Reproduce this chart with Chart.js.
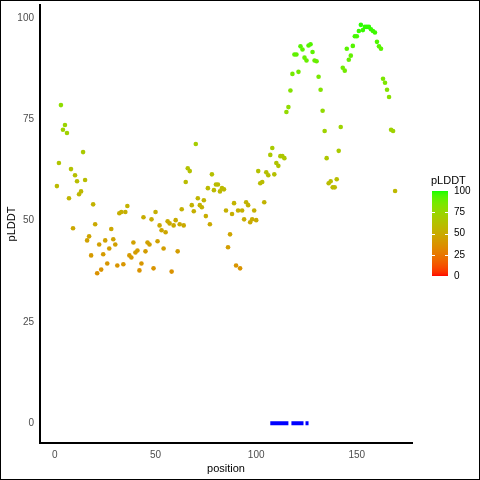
<!DOCTYPE html>
<html>
<head>
<meta charset="utf-8">
<script src="https://cdn.jsdelivr.net/npm/chart.js@4.4.0/dist/chart.umd.min.js"></script>
<style>
html, body { margin: 0; padding: 0; background: #fff; }
#wrap { width: 480px; height: 480px; position: relative; }
</style>
</head>
<body>
<div id="wrap"><canvas id="chart" width="480" height="480"></canvas></div>
<script>
// pLDDT per residue (positions 1..169)
const plddt = [
    58.5, 64.2, 78.5, 72.4, 73.6, 71.6, 55.5, 62.7, 48.1, 61.2,
    59.7, 56.5, 57.2, 66.9, 60.0, 45.1, 46.1, 41.4, 54.0, 49.1,
    37.0, 44.1, 37.9, 41.7, 45.1, 39.4, 43.1, 47.9, 45.4, 44.1,
    38.9, 51.8, 52.1, 39.2, 52.1, 53.6, 41.4, 40.9, 44.6, 42.1,
    42.6, 37.7, 39.4, 50.8, 42.4, 44.6, 44.1, 50.3, 38.2, 52.1,
    44.9, 48.8, 47.6, 43.1, 47.1, 49.8, 49.3, 37.4, 48.8, 50.1,
    42.4, 49.1, 52.8, 48.8, 59.5, 62.9, 62.2, 53.8, 52.3, 68.9,
    55.5, 53.8, 53.3, 55.0, 51.1, 58.0, 49.1, 61.4, 57.5, 58.9,
    58.9, 57.2, 58.0, 57.7, 52.5, 43.4, 46.6, 51.6, 54.3, 38.9,
    52.5, 38.2, 52.5, 50.3, 54.5, 53.8, 49.6, 50.3, 52.5, 50.1,
    62.2, 59.2, 59.5, 54.5, 61.9, 61.2, 66.2, 67.9, 61.4, 64.2,
    63.5, 65.9, 65.9, 65.4, 76.8, 78.0, 82.1, 86.2, 91.0, 91.0,
    86.7, 93.0, 92.2, 90.2, 89.5, 93.2, 93.5, 91.6, 89.5, 89.3,
    85.5, 82.3, 77.1, 72.1, 65.4, 59.2, 59.7, 58.2, 58.2, 60.2,
    67.2, 73.1, 87.7, 87.0, 92.4, 89.7, 90.7, 93.1, 95.5, 95.5,
    96.8, 98.3, 97.0, 97.8, 97.8, 97.8, 97.2, 96.8, 96.4, 94.1,
    93.0, 92.4, 85.0, 84.0, 82.3, 80.5, 72.4, 72.1, 57.3
]
const positions = plddt.map((v, i) => i + 1)

// blue bars at y = 0
const segStart = [107, 117.5, 124.5]
const segEnd = [116, 123.5, 126]

const xTicks = [0, 50, 100, 150]
const yTicks = [0, 25, 50, 75, 100]
const legendTicks = [0, 25, 50, 75, 100]

const FONT = "'Liberation Sans', Arial, sans-serif"

// red -> green gradient interpolated in CIELAB (like ggplot)
function srgbToLin(c) { c /= 255; return c <= 0.04045 ? c / 12.92 : Math.pow((c + 0.055) / 1.055, 2.4) }
function linToSrgb(c) { c = c <= 0.0031308 ? 12.92 * c : 1.055 * Math.pow(c, 1 / 2.4) - 0.055; return Math.round(Math.min(1, Math.max(0, c)) * 255) }
function rgbToLab(r, g, b) {
    r = srgbToLin(r); g = srgbToLin(g); b = srgbToLin(b)
    let x = (r * 0.4124 + g * 0.3576 + b * 0.1805) / 0.95047
    let y = (r * 0.2126 + g * 0.7152 + b * 0.0722)
    let z = (r * 0.0193 + g * 0.1192 + b * 0.9505) / 1.08883
    const f = t => t > 0.008856 ? Math.cbrt(t) : 7.787 * t + 16 / 116
    x = f(x); y = f(y); z = f(z)
    return [116 * y - 16, 500 * (x - y), 200 * (y - z)]
}
function labToRgb(L, a, bb) {
    let y = (L + 16) / 116, x = a / 500 + y, z = y - bb / 200
    const fi = t => t * t * t > 0.008856 ? t * t * t : (t - 16 / 116) / 7.787
    x = fi(x) * 0.95047; y = fi(y); z = fi(z) * 1.08883
    const r = x * 3.2406 + y * -1.5372 + z * -0.4986
    const g = x * -0.9689 + y * 1.8758 + z * 0.0415
    const b = x * 0.0557 + y * -0.2040 + z * 1.0570
    return `rgb(${linToSrgb(r)},${linToSrgb(g)},${linToSrgb(b)})`
}
const labLow = rgbToLab(255, 0, 0)
const labHigh = rgbToLab(0, 255, 0)
function plddtColor(v) {
    const t = Math.min(1, Math.max(0, v / 100))
    return labToRgb(
        labLow[0] + (labHigh[0] - labLow[0]) * t,
        labLow[1] + (labHigh[1] - labLow[1]) * t,
        labLow[2] + (labHigh[2] - labLow[2]) * t
    )
}

var segData = []
segStart.forEach((s, i) => {
    segData.push({ x: s, y: 0 }, { x: segEnd[i], y: 0 }, { x: segEnd[i], y: null })
})

const legendPlugin = {
    id: 'legendBar',
    afterDraw(chart) {
        const ctx = chart.ctx
        const lx = 432, ly0 = 191, ly1 = 276, lw = 16
        ctx.save()
        for (let i = 0; i < ly1 - ly0; i++) {
            ctx.fillStyle = plddtColor(100 * (1 - (i + 0.5) / (ly1 - ly0)))
            ctx.fillRect(lx, ly0 + i, lw, 1)
        }
        ctx.strokeStyle = '#fff'
        ctx.lineWidth = 1
        ctx.font = `10px ${FONT}`
        ctx.textBaseline = 'middle'
        ctx.textAlign = 'left'
        ctx.fillStyle = '#000'
        legendTicks.forEach(v => {
            const y = ly1 - (ly1 - ly0) * v / 100
            if (v > 0 && v < 100) {
                ctx.beginPath()
                ctx.moveTo(lx, Math.round(y) + 0.5); ctx.lineTo(lx + 3, Math.round(y) + 0.5)
                ctx.moveTo(lx + lw - 3, Math.round(y) + 0.5); ctx.lineTo(lx + lw, Math.round(y) + 0.5)
                ctx.stroke()
            }
            ctx.fillText(String(v), lx + lw + 6, y)
        })
        ctx.font = `11px ${FONT}`
        ctx.fillText('pLDDT', lx - 1, 181)
        // outer frame
        ctx.strokeStyle = '#000'
        ctx.strokeRect(0.5, 0.5, 479, 479)
        ctx.restore()
    }
}

const chart = new Chart(document.getElementById('chart').getContext('2d'), {
    type: 'scatter',
    data: {
        datasets: [{
            data: positions.map((x, i) => ({ x: x, y: plddt[i] })),
            pointRadius: 2.3,
            pointHoverRadius: 2.3,
            borderWidth: 0,
            pointBackgroundColor: plddt.map(plddtColor),
            pointBorderWidth: 0
        }, {
            type: 'line',
            data: segData,
            borderColor: '#0000ff',
            borderWidth: 4,
            borderCapStyle: 'butt',
            pointRadius: 0,
            spanGaps: false,
            fill: false
        }]
    },
    options: {
        responsive: false,
        animation: false,
        events: [],
        layout: { padding: { left: 0, right: 68, top: 5, bottom: 0 } },
        plugins: { legend: { display: false }, tooltip: { enabled: false } },
        scales: {
            x: {
                type: 'linear',
                min: -7.4,
                max: 177.4,
                afterBuildTicks: s => { s.ticks = xTicks.map(v => ({ value: v })) },
                afterFit: s => { s.height = 37; s.paddingLeft = 0; s.paddingRight = 0 },
                grid: { display: false, drawTicks: false },
                border: { display: true, color: '#000', width: 2 },
                ticks: { color: '#4d4d4d', font: { family: FONT, size: 10 }, padding: 6, maxRotation: 0 },
                title: { display: true, text: 'position', color: '#000', font: { family: FONT, size: 11 }, padding: { top: 0, bottom: 4.4 } }
            },
            y: {
                type: 'linear',
                min: -4.9,
                max: 103.2,
                afterBuildTicks: s => { s.ticks = yTicks.map(v => ({ value: v })) },
                afterFit: s => { s.width = 40; s.paddingTop = 0; s.paddingBottom = 0 },
                grid: { display: false, drawTicks: false },
                border: { display: true, color: '#000', width: 2 },
                ticks: { color: '#4d4d4d', font: { family: FONT, size: 10 }, padding: 6 },
                title: { display: true, text: 'pLDDT', color: '#000', font: { family: FONT, size: 11 }, padding: { top: 5.4, bottom: 0 } }
            }
        }
    },
    plugins: [legendPlugin]
})
</script>
</body>
</html>
